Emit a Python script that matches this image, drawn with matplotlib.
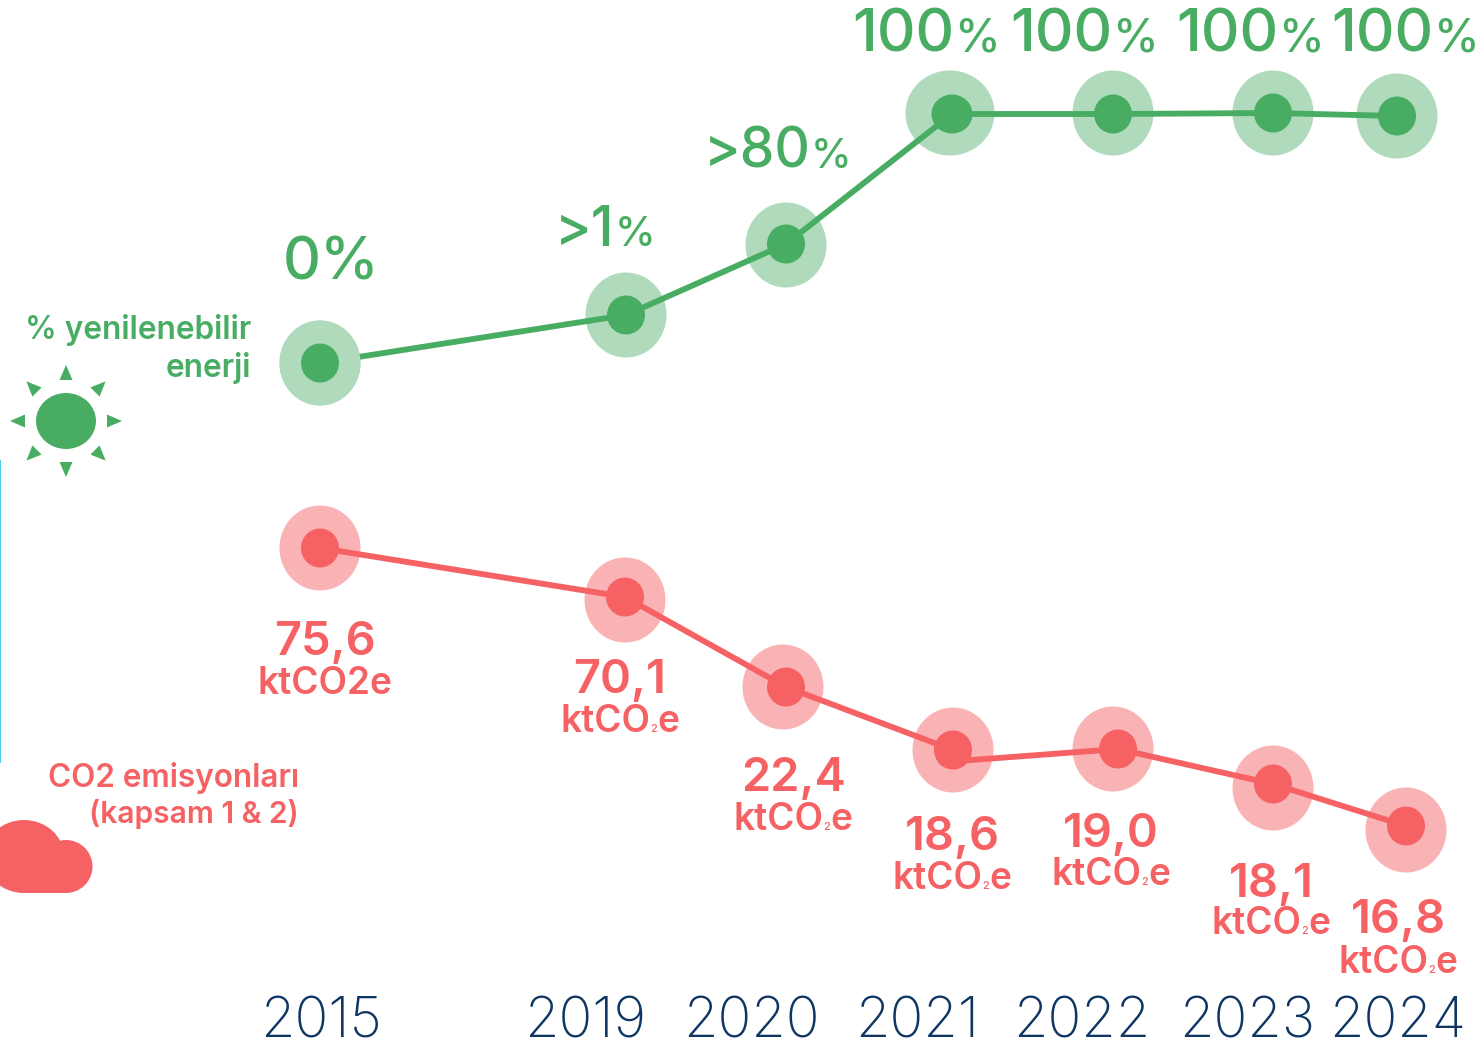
import matplotlib
matplotlib.use('Agg')
import matplotlib.pyplot as plt
from matplotlib.patches import Ellipse, Polygon, Rectangle
import numpy as np

plt.rcParams['font.family'] = ['Inter', 'DejaVu Sans']

years = ['2015', '2019', '2020', '2021', '2022', '2023', '2024']
year_x = [321, 585, 751, 917, 1082, 1247, 1398]

# values, in picture heights
green_x = [320, 626, 786, 952, 1113, 1273, 1397]
green_y = [363, 315, 244, 114, 114, 113, 116]
green_halo_x = [320, 626, 786, 950, 1113, 1273, 1397]
green_halo_y = [363, 315, 245, 113, 113, 113, 116]
green_labels = ['0', '>1', '>80', '100', '100', '100', '100']
green_label_x = [331, 605, 778, 926, 1084, 1250, 1405]
green_label_y = [279, 246, 168, 52, 52, 52, 52]

red_x = [320, 625, 786, 953, 1118, 1273, 1406]
red_y = [548, 597, 687, 750, 749, 784, 826]
# the line leaves the 2021 point a little lower than it arrives
red_line_x = [320, 625, 786, 953, 945, 1118, 1273, 1406]
red_line_y = [548, 597, 687, 750, 762, 749, 784, 826]
red_halo_x = [320, 625, 783, 953, 1113, 1273, 1406]
red_halo_y = [548, 600, 687, 750, 749, 788, 830]
red_labels = ['75,6', '70,1', '22,4', '18,6', '19,0', '18,1', '16,8']
red_label_x = [325, 620, 793, 952, 1111, 1271, 1398]
red_label_y = [655, 693, 791, 850, 847, 897, 933]
unit_y = [694, 732, 830, 889, 885, 934, 973]

GREEN = '#48ad63'
GREEN_L = '#afdabb'
RED = '#f66164'
RED_L = '#fab3b5'
NAVY = '#0f3663'

fig = plt.figure(figsize=(14.77, 10.44), dpi=100)
ax = fig.add_axes([0, 0, 1, 1])
ax.set_xlim(0, 1477)
ax.set_ylim(1044, 0)
ax.axis('off')


def runs(cx, y, parts, color):
    # text pieces of different sizes side by side, centred on cx
    rend = fig.canvas.get_renderer()
    items = [ax.text(0, y, s, fontsize=fs * 0.72, color=color, va='baseline', ha='left',
                     fontweight=w) for s, fs, w in parts]
    widths = [t.get_window_extent(rend).width for t in items]
    x = cx - sum(widths) / 2
    for t, wd in zip(items, widths):
        t.set_x(x)
        x += wd


for i, (hx, hy) in enumerate(zip(green_halo_x, green_halo_y)):
    ax.add_patch(Ellipse((hx, hy), 89 if i == 3 else 81, 85, color=GREEN_L, lw=0, zorder=1))
for hx, hy in zip(red_halo_x, red_halo_y):
    ax.add_patch(Ellipse((hx, hy), 81, 85, color=RED_L, lw=0, zorder=1))

ax.plot(green_x, green_y, color=GREEN, lw=4.2, zorder=2, solid_joinstyle='miter')
ax.plot(red_line_x, red_line_y, color=RED, lw=4.2, zorder=2, solid_joinstyle='miter')
# the first halo sits over the start of the line
ax.add_patch(Ellipse((green_halo_x[0], green_halo_y[0]), 81, 85, color=GREEN_L, lw=0, zorder=3))

for i, (px, py) in enumerate(zip(green_x, green_y)):
    ax.add_patch(Ellipse((px, py), 41 if i == 3 else 38, 39, color=GREEN, lw=0, zorder=4))
for px, py in zip(red_x, red_y):
    ax.add_patch(Ellipse((px, py), 38, 39, color=RED, lw=0, zorder=4))

for s, lx, ly in zip(green_labels, green_label_x, green_label_y):
    if s == '0':
        runs(lx, ly, [(s + '%', 59, 'medium')], GREEN)
    elif s == '100':
        runs(lx, ly, [(s, 60, 'medium'), ('%', 46, 'medium')], GREEN)
    else:
        runs(lx, ly, [(s, 55, 'medium'), ('%', 41, 'medium')], GREEN)

for i, (s, lx) in enumerate(zip(red_labels, red_label_x)):
    runs(lx, red_label_y[i], [(s, 47, 'semibold')], RED)
    if i == 0:
        runs(lx, unit_y[i], [('ktCO2e', 37, 'semibold')], RED)
    else:
        runs(lx, unit_y[i], [('ktCO', 37, 'semibold'), ('2', 11, 'medium'), ('e', 37, 'semibold')], RED)

for s, yx in zip(years, year_x):
    ax.text(yx, 1037, s, fontsize=56 * 0.72, color=NAVY, ha='center', va='baseline', fontweight='light')

ax.text(251, 339, '% yenilenebilir', fontsize=31.6 * 0.72, color=GREEN, ha='right', va='baseline', fontweight='semibold')
ax.text(251, 377, 'enerji', fontsize=31.6 * 0.72, color=GREEN, ha='right', va='baseline', fontweight='semibold')
ax.text(299, 787, 'CO2 emisyonları', fontsize=31.5 * 0.72, color=RED, ha='right', va='baseline', fontweight='semibold')
ax.text(299, 823, '(kapsam 1 & 2)', fontsize=30 * 0.72, color=RED, ha='right', va='baseline', fontweight='semibold')

# sun icon
ax.add_patch(Ellipse((66, 421), 60, 56, color=GREEN, lw=0))
for ang in range(0, 360, 45):
    a = np.deg2rad(ang)
    d = np.array([np.cos(a), np.sin(a)])
    n = np.array([-d[1], d[0]])
    c = np.array([66, 421])
    ax.add_patch(Polygon([c + d * 56, c + d * 41 + n * 6.5, c + d * 41 - n * 6.5], color=GREEN, lw=0))

# cloud icon
ax.add_patch(Ellipse((24, 856.5), 80, 73, color=RED, lw=0))
ax.add_patch(Ellipse((66, 866.5), 53, 53, color=RED, lw=0))
ax.add_patch(Rectangle((20, 860), 46, 33, color=RED, lw=0))

# thin edge line at the left
ax.add_patch(Rectangle((0, 460), 1.3, 303, color='#4fc8f0', lw=0))

fig.savefig('out.png', dpi=100)
